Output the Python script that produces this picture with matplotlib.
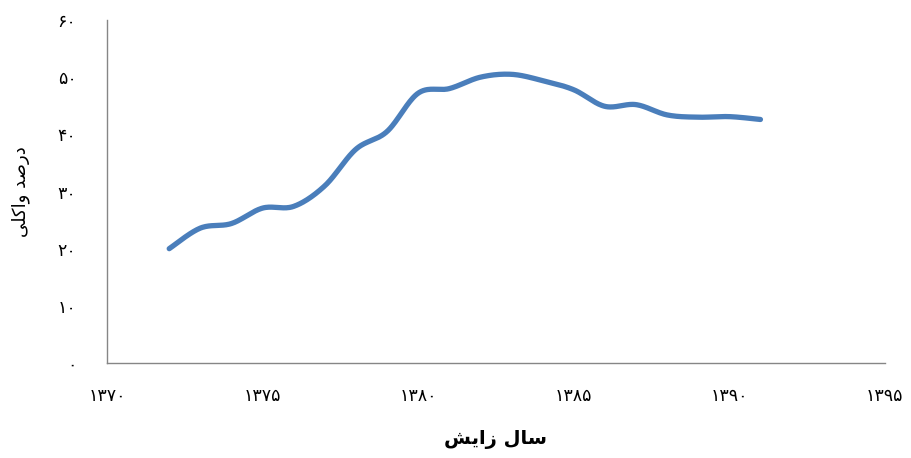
import numpy as np
import matplotlib
matplotlib.use("Agg")
import matplotlib.pyplot as plt

plt.rcParams['font.family'] = ['DejaVu Sans']

years = [1372, 1373, 1374, 1375, 1376, 1377, 1378, 1379, 1380, 1381,
         1382, 1383, 1384, 1385, 1386, 1387, 1388, 1389, 1390, 1391]
values = [20.0, 23.6, 24.4, 27.1, 27.4, 31.0, 37.4, 40.5, 47.2, 48.0,
          50.0, 50.5, 49.4, 47.8, 44.9, 45.2, 43.4, 43.0, 43.1, 42.6]

x_ticks = [1370, 1375, 1380, 1385, 1390, 1395]
y_ticks = [0, 10, 20, 30, 40, 50, 60]

x_label = "\uFEB6\uFEF3\uFE8D\uFEAF \uFEDD\uFE8E\uFEB3"          # سال زایش (shaped, visual order)
y_label = "\uFEF0\uFEE0\uFEDB\uFE8D\uFEED \uFEAA\uFEBB\uFEAD\uFEA9"  # درصد واکلی


def fa_digits(n):
    return str(n).translate(str.maketrans("0123456789", "۰۱۲۳۴۵۶۷۸۹"))


def smooth(xs, ys, n=30, t=0.5):
    xs = np.asarray(xs, float); ys = np.asarray(ys, float)
    px = np.concatenate([[xs[0]], xs, [xs[-1]]])
    py = np.concatenate([[ys[0]], ys, [ys[-1]]])
    ox, oy = [], []
    for i in range(1, len(px) - 2):
        p0, p1, p2, p3 = (np.array([px[j], py[j]]) for j in (i - 1, i, i + 1, i + 2))
        c1 = p1 + (p2 - p0) * t / 3
        c2 = p2 - (p3 - p1) * t / 3
        s = np.linspace(0, 1, n, endpoint=False if i < len(px) - 3 else True)[:, None]
        b = (1 - s) ** 3 * p1 + 3 * (1 - s) ** 2 * s * c1 + 3 * (1 - s) * s ** 2 * c2 + s ** 3 * p2
        ox.extend(b[:, 0]); oy.extend(b[:, 1])
    return np.array(ox), np.array(oy)


fig = plt.figure(figsize=(9.12, 4.58), dpi=100)
ax = fig.add_axes([0.1173, 0.2074, 0.853, 0.7489])

sx, sy = smooth(years, values, t=0.5)
ax.plot(sx, sy, color='#4A7EBB', linewidth=3.8, solid_capstyle='round')

ax.set_xlim(1370, 1395)
ax.set_ylim(0, 60)
ax.set_xticks(x_ticks)
ax.set_xticklabels([fa_digits(v) for v in x_ticks])
ax.set_yticks(y_ticks)
ax.set_yticklabels([fa_digits(v) for v in y_ticks])
ax.tick_params(axis='both', length=0, labelsize=12.5, colors='black')
ax.tick_params(axis='y', pad=22)
ax.tick_params(axis='x', pad=17)

for s in ('top', 'right'):
    ax.spines[s].set_visible(False)
for s in ('left', 'bottom'):
    ax.spines[s].set_color('#868686')
    ax.spines[s].set_linewidth(1.0)

ax.set_xlabel(x_label, fontsize=14, fontweight='bold', labelpad=18)
ax.set_ylabel(y_label, fontsize=13, labelpad=20)

fig.savefig("out.png", dpi=100)
